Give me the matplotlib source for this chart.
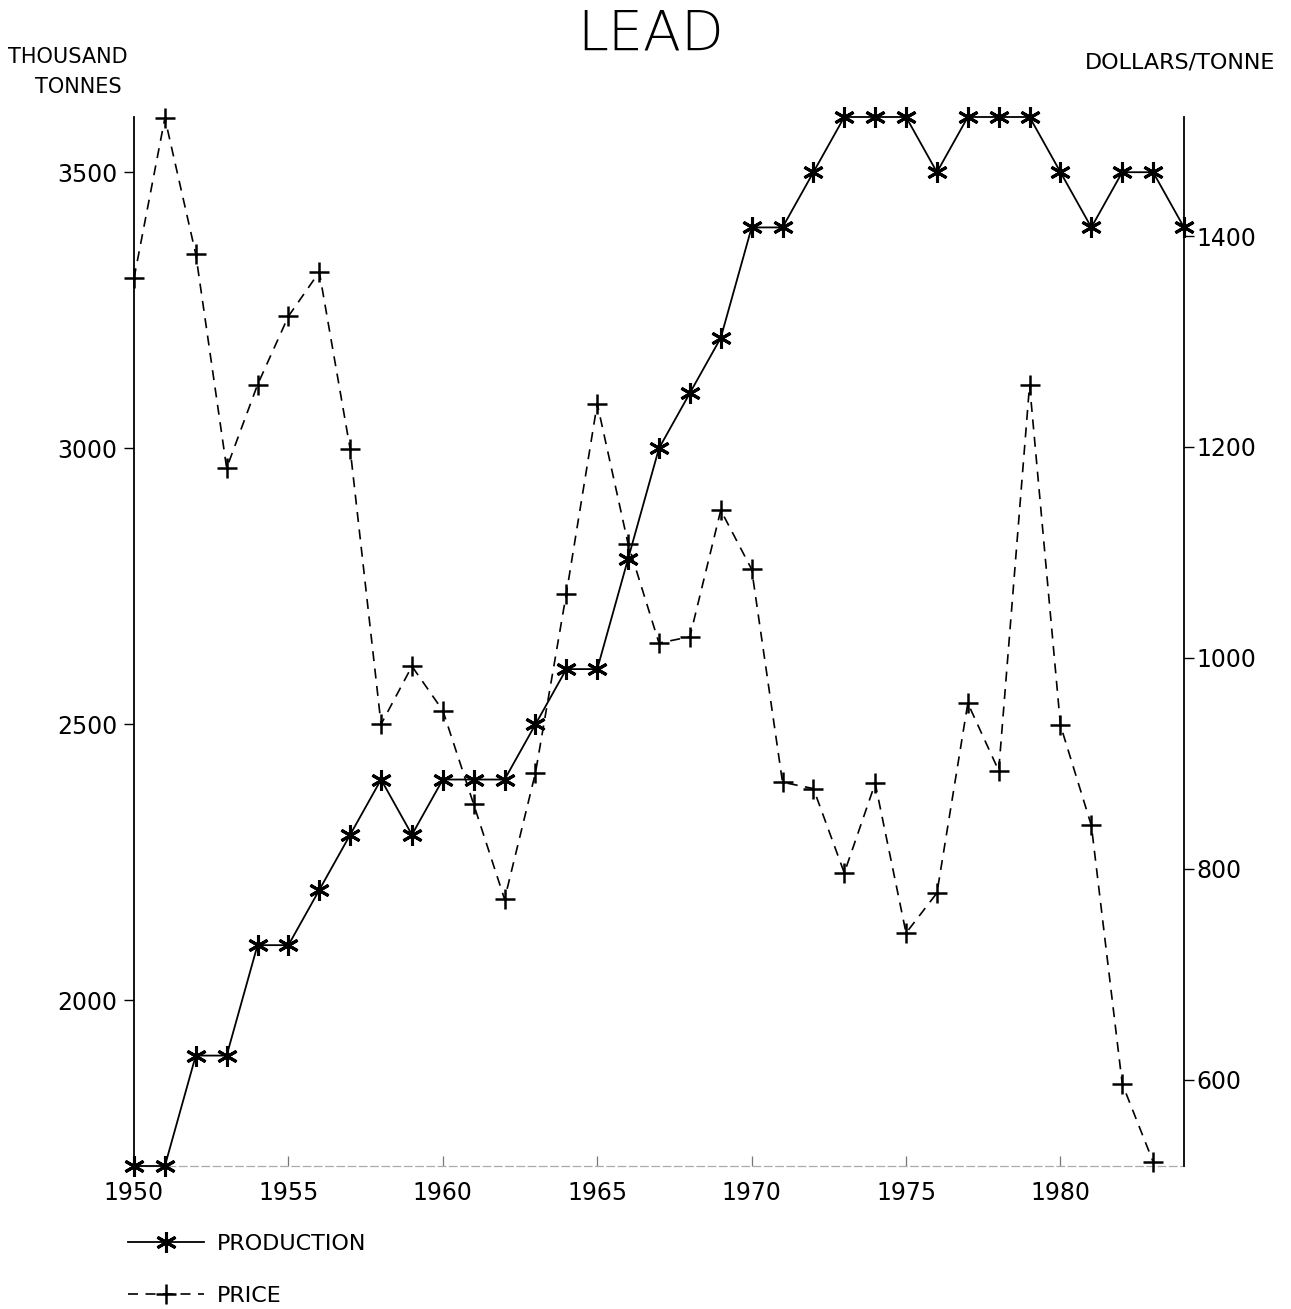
import matplotlib
matplotlib.use("Agg")
import matplotlib.pyplot as plt

years = list(range(1950, 1985))
production = [1700, 1700, 1900, 1900, 2100, 2100, 2200, 2300, 2400, 2300,
              2400, 2400, 2400, 2500, 2600, 2600, 2800, 3000, 3100, 3200,
              3400, 3400, 3500, 3600, 3600, 3600, 3500, 3600, 3600, 3600,
              3500, 3400, 3500, 3500, 3400]
price_years = list(range(1950, 1984))
price = [1360, 1512, 1383, 1180, 1259, 1324, 1366, 1198, 937, 992,
         950, 861, 771, 891, 1061, 1241, 1108, 1014, 1020, 1140,
         1084, 882, 876, 796, 881, 739, 777, 957, 893, 1259,
         936, 841, 596, 522]
left_ticks = [2000, 2500, 3000, 3500]
right_ticks = [600, 800, 1000, 1200, 1400]
x_ticks = [1950, 1955, 1960, 1965, 1970, 1975, 1980]

plt.rcParams['font.family'] = ['DejaVu Sans']

fig = plt.figure(figsize=(12.91, 13.09), dpi=100)
ax = fig.add_axes([134/1291, 1-1166/1309, (1184-134)/1291, (1166-117)/1309])
ax2 = ax.twinx()

l1, = ax.plot(years, production, color='black', lw=1.3, marker=(6, 2, 0),
              markersize=15, markeredgewidth=2.2, label='PRODUCTION',
              clip_on=False, zorder=3)
l2, = ax2.plot(price_years, price, color='black', lw=1.2, dashes=(6, 4.5),
               marker='+', markersize=14, markeredgewidth=1.8, label='PRICE',
               clip_on=False, zorder=3)

ax.set_xlim(1950, 1984)
ax.set_ylim(1700, 3600)
ax2.set_ylim(518, 1513)

for a in (ax, ax2):
    a.spines['top'].set_visible(False)
ax.spines['right'].set_visible(False)
ax2.spines['left'].set_visible(False)
ax2.spines['bottom'].set_visible(False)
ax.spines['left'].set_linewidth(1.3)
ax2.spines['right'].set_linewidth(1.3)
ax.spines['bottom'].set_color('#aaaaaa')
ax.spines['bottom'].set_linewidth(0.9)
ax.spines['bottom'].set_linestyle((0, (6, 3)))

ax.set_yticks(left_ticks)
ax.set_yticklabels([str(v) for v in left_ticks])
ax2.set_yticks(right_ticks)
ax2.set_yticklabels([str(v) for v in right_ticks])
ax.set_xticks(x_ticks)
ax.set_xticklabels([str(v) for v in x_ticks])

ax.tick_params(axis='y', direction='out', length=7, width=1.0, labelsize=17, pad=5)
ax2.tick_params(axis='y', direction='out', length=7, width=1.0, labelsize=17, pad=2)
ax.tick_params(axis='x', direction='in', length=7, width=0.9, color='#777777',
               labelsize=17, pad=11)

fig.text(651/1291, 1-35/1309, 'LEAD', ha='center', va='center',
         fontsize=40, fontweight='light')
fig.text(68/1291, 1-57/1309, 'THOUSAND', ha='center', va='center', fontsize=15)
fig.text(78/1291, 1-87/1309, 'TONNES', ha='center', va='center', fontsize=15)
fig.text(1180/1291, 1-63/1309, 'DOLLARS/TONNE', ha='center', va='center', fontsize=16)

fig.legend(handles=[l1, l2], loc='upper left',
           bbox_to_anchor=(128/1291, 1-1234/1309), frameon=False,
           fontsize=16, handlelength=3.4, handletextpad=0.6,
           labelspacing=1.45, borderpad=0, borderaxespad=0)

fig.savefig('out.png', dpi=100)
